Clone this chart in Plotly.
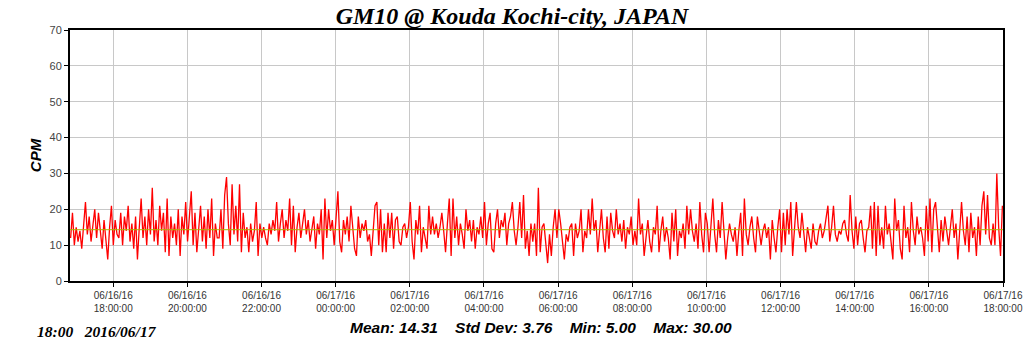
import pandas as pd
import plotly.graph_objects as go

title = "GM10 @ Kouda Kochi-city, JAPAN"
start_time = "2016-06-16 16:51"
end_time = "2016-06-17 17:59"
x_start = "2016-06-16 16:50"
x_end = "2016-06-17 18:00"

seg1 = [12, 19, 10, 15, 11,
        14, 9, 17, 22, 13, 18, 11, 16, 20, 12,
        19, 14, 9, 17, 12, 6, 15, 21, 10, 17, 13,
        12, 19, 10, 18, 14, 21, 11, 16, 9, 18,
        6, 15, 23, 12, 18, 10, 20, 13, 26, 11,
        17, 10, 21, 14, 19, 8, 23, 7, 18, 12,
        16, 10, 20, 7, 18, 13, 22, 11, 17, 25,
        10, 19, 8, 15, 21, 11, 18, 9, 20, 12, 23, 7, 16, 12]
seg2 = [12, 20, 9, 24, 29, 16, 10, 27, 13, 21, 11, 27, 8,
        19, 12, 15, 8, 16, 11, 14, 22, 7, 16, 12,
        15, 12, 10, 16, 13, 17, 14, 22, 11, 16, 20,
        12, 17, 14, 23, 10, 21, 8, 15, 19, 12, 16,
        20, 13, 17, 11, 15, 18, 9, 16, 13, 20, 6,
        23, 12, 20, 14, 17, 10, 19, 25, 11, 8, 17,
        13, 18, 11, 21, 14, 9, 7, 18, 12, 16, 14, 17, 11]
seg3 = [13, 7, 15, 21, 22, 10, 20, 8, 16, 8, 19,
        12, 19, 9, 17, 18, 11, 10, 15, 16, 12, 15,
        22, 11, 6, 17, 13, 21, 8, 15, 12, 9, 21,
        13, 18, 13, 16, 12, 15, 19, 14, 8,
        16, 23, 7, 23, 12, 18, 10, 16, 13, 9, 20,
        14, 17, 11, 17, 9, 15, 13, 18, 12, 22, 10,
        16, 19, 9, 8, 16, 20, 12, 17, 15, 19, 10, 16, 18, 22, 14, 10, 15]
seg4 = [22, 12, 24, 9, 14, 7, 16, 11, 16, 7, 26,
        8, 15, 16, 10, 5, 13, 7, 15, 20, 12, 20,
        16, 11, 6, 13, 11, 15, 16, 7, 16, 12, 14, 20, 8, 14, 12, 20, 13, 23,
        14, 17, 8, 14, 20, 12, 8, 18, 9, 19, 14, 12, 20, 13, 16, 11, 17, 9, 15, 13, 18, 10, 14,
        10, 23, 13, 16, 7, 12, 17, 11, 8, 15, 13, 21, 8, 14, 18, 11, 15, 12]
seg5 = [6, 19, 11, 20, 7, 14,
        12, 16, 9, 21, 13, 20, 14, 11, 16, 9, 22, 13, 8, 19, 16, 8, 15, 23,
        13, 8, 17, 12, 22, 14, 6, 12, 16, 13, 11, 15, 7, 14, 19, 7, 23, 13,
        10, 15, 18, 12, 8, 18, 13, 10, 14, 16, 12, 15, 6, 17, 12, 8, 15, 20,
        8, 19, 10, 20, 13, 22, 7, 14, 22, 15, 12, 19, 14, 8, 15, 12, 9, 16, 11, 10, 14]
seg6 = [16, 12, 14, 17, 21, 11, 15, 21, 13, 11, 14,
        13, 16, 17, 13, 11, 24, 14, 9, 18, 10, 16, 17,
        12, 8, 14, 15, 21, 9, 22, 7, 21, 10, 15,
        9, 21, 13, 16, 11, 6, 23, 14, 17, 9, 6, 21, 12, 15,
        8, 22, 14, 10, 18, 13, 15, 12, 7, 21, 11, 23, 8, 20,
        22, 14, 8, 17, 11, 18, 13, 10, 15, 20, 12, 16, 6, 14,
        22, 14, 10, 18, 8, 19, 12, 15, 7, 18, 10, 21, 25, 13, 24, 12, 10, 16, 10, 30, 15, 7, 21]

cpm = seg1 + seg2 + seg3 + seg4 + seg5 + seg6
mean_value = 14.31
stats_text = "Mean: 14.31    Std Dev: 3.76    Min: 5.00    Max: 30.00"
stamp_text = "18:00   2016/06/17"

tick_times = ["2016-06-16 18:00", "2016-06-16 20:00", "2016-06-16 22:00",
              "2016-06-17 00:00", "2016-06-17 02:00", "2016-06-17 04:00",
              "2016-06-17 06:00", "2016-06-17 08:00", "2016-06-17 10:00",
              "2016-06-17 12:00", "2016-06-17 14:00", "2016-06-17 16:00",
              "2016-06-17 18:00"]
tick_labels = ["06/16/16<br>18:00:00", "06/16/16<br>20:00:00", "06/16/16<br>22:00:00",
               "06/17/16<br>00:00:00", "06/17/16<br>02:00:00", "06/17/16<br>04:00:00",
               "06/17/16<br>06:00:00", "06/17/16<br>08:00:00", "06/17/16<br>10:00:00",
               "06/17/16<br>12:00:00", "06/17/16<br>14:00:00", "06/17/16<br>16:00:00",
               "06/17/16<br>18:00:00"]

times = pd.date_range(start_time, end_time, periods=len(cpm))

fig = go.Figure()
fig.add_trace(go.Scatter(x=times, y=cpm, mode="lines",
                         line=dict(color="#ff0000", width=1.3), showlegend=False))
fig.add_trace(go.Scatter(x=[x_start, x_end], y=[mean_value, mean_value], mode="lines",
                         line=dict(color="#b0b000", width=1), showlegend=False))

fig.update_layout(
    width=1024, height=351,
    margin=dict(l=70, r=21, t=30, b=70),
    paper_bgcolor="white", plot_bgcolor="white",
    title=dict(text="<b><i>" + title + "</i></b>", x=0.5, xanchor="center", y=0.955, yanchor="middle",
               font=dict(family="Liberation Serif", size=24, color="black")),
    xaxis=dict(range=[x_start, x_end], tickvals=tick_times, ticktext=tick_labels,
               automargin=False,
               showgrid=True, gridcolor="#c8c8c8", gridwidth=1,
               showline=True, linecolor="black", linewidth=2, mirror=True,
               ticks="outside", ticklen=4, tickcolor="black",
               tickfont=dict(family="Liberation Sans", size=10, color="#333333"),
               zeroline=False),
    yaxis=dict(range=[0, 70], tickvals=[0, 10, 20, 30, 40, 50, 60, 70],
               automargin=False,
               showgrid=True, gridcolor="#c8c8c8", gridwidth=1,
               showline=True, linecolor="black", linewidth=2, mirror=True,
               ticks="outside", ticklen=4, tickcolor="black",
               tickfont=dict(family="Liberation Sans", size=11, color="#444444"),
               title=dict(text="<b><i>CPM</i></b>", standoff=4,
                          font=dict(family="Liberation Sans", size=15, color="black")),
               zeroline=False),
    annotations=[
        dict(text="<b><i>" + stats_text + "</i></b>", xref="paper", yref="paper",
             x=0.505, y=-0.185, xanchor="center", yanchor="middle", showarrow=False,
             font=dict(family="Liberation Sans", size=15.5, color="black")),
        dict(text="<b><i>" + stamp_text.replace(" ", "&nbsp;") + "</i></b>", xref="paper", yref="paper",
             x=-0.038, y=-0.2, xanchor="left", yanchor="middle", showarrow=False,
             font=dict(family="Liberation Serif", size=15.5, color="black")),
    ],
)

fig.write_html("out.html")
